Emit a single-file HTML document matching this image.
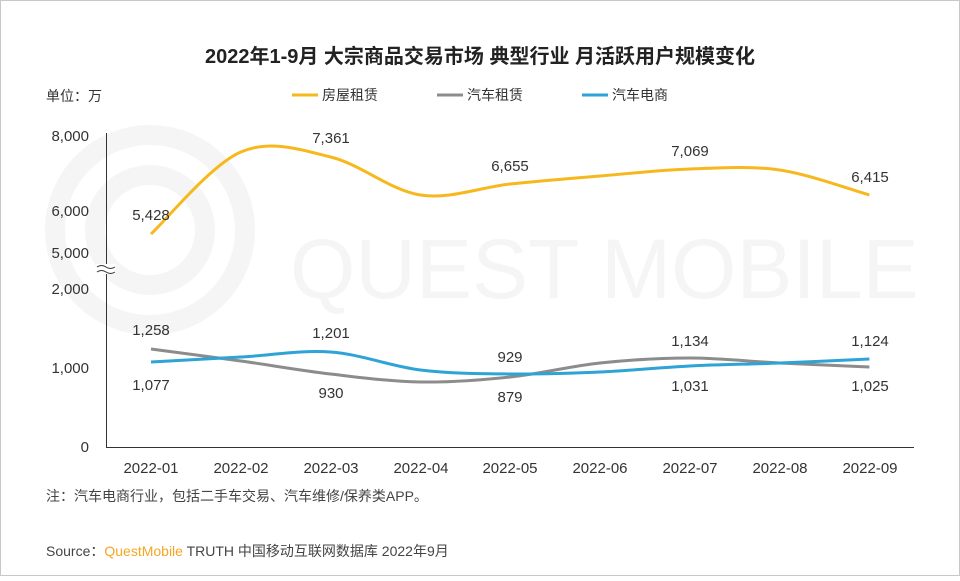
<!DOCTYPE html>
<html><head><meta charset="utf-8"><style>
body{margin:0;width:960px;height:576px;overflow:hidden;background:#fff;font-family:"Liberation Sans","Noto Sans CJK SC",sans-serif}
</style></head><body>
<svg width="960" height="576" xmlns="http://www.w3.org/2000/svg" font-family="Liberation Sans, Noto Sans CJK SC, sans-serif">
<rect x="0.5" y="0.5" width="959" height="575" fill="#fff" stroke="#c8c8c8"/>
<!-- watermark -->
<g fill="none" stroke="#f5f5f5" stroke-width="20">
<circle cx="150" cy="230" r="95"/>
<circle cx="150" cy="230" r="55"/>
</g>
<text x="290" y="298" font-size="84" fill="#f5f5f5">QUEST MOBILE</text>
<text x="480" y="63" font-size="20" text-anchor="middle" fill="#222" font-weight="bold">2022年1-9月 大宗商品交易市场 典型行业 月活跃用户规模变化</text>
<text x="46" y="101" font-size="14" fill="#333">单位：万</text>
<line x1="292" y1="95" x2="318" y2="95" stroke="#f6b81c" stroke-width="3"/>
<text x="322" y="100" font-size="14" fill="#333">房屋租赁</text>
<line x1="437" y1="95" x2="463" y2="95" stroke="#8c8c8c" stroke-width="3"/>
<text x="467" y="100" font-size="14" fill="#333">汽车租赁</text>
<line x1="582" y1="95" x2="608" y2="95" stroke="#2ea3d6" stroke-width="3"/>
<text x="612" y="100" font-size="14" fill="#333">汽车电商</text>
<g font-size="15" fill="#333" text-anchor="end">
<text x="89" y="141">8,000</text><text x="89" y="216">6,000</text><text x="89" y="258">5,000</text>
<text x="89" y="294">2,000</text><text x="89" y="373">1,000</text><text x="89" y="452">0</text>
</g>
<line x1="106.5" y1="133" x2="106.5" y2="447" stroke="#333"/>
<line x1="106" y1="447.5" x2="914" y2="447.5" stroke="#333"/>
<rect x="96" y="264" width="20" height="10" fill="#fff"/>
<path d="M97,267 q4.5,-3 9,0 t9,0 M97,272 q4.5,-3 9,0 t9,0" fill="none" stroke="#333" stroke-width="1"/>
<g font-size="15" fill="#333" text-anchor="middle">
<text x="151" y="473">2022-01</text><text x="241" y="473">2022-02</text><text x="331" y="473">2022-03</text>
<text x="421" y="473">2022-04</text><text x="510" y="473">2022-05</text><text x="600" y="473">2022-06</text>
<text x="690" y="473">2022-07</text><text x="780" y="473">2022-08</text><text x="870" y="473">2022-09</text>
</g>
<path id="py" fill="none" stroke="#f6b81c" stroke-width="3"/>
<path id="pg" fill="none" stroke="#8c8c8c" stroke-width="3"/>
<path id="pb" fill="none" stroke="#2ea3d6" stroke-width="3"/>
<g font-size="15" fill="#333" text-anchor="middle">
<text x="151" y="220">5,428</text><text x="331" y="143">7,361</text><text x="510" y="171">6,655</text>
<text x="690" y="156">7,069</text><text x="870" y="182">6,415</text>
<text x="151" y="335">1,258</text><text x="151" y="390">1,077</text>
<text x="331" y="338">1,201</text><text x="331" y="398">930</text>
<text x="510" y="362">929</text><text x="510" y="402">879</text>
<text x="690" y="346">1,134</text><text x="690" y="391">1,031</text>
<text x="870" y="346">1,124</text><text x="870" y="391">1,025</text>
</g>
<text x="46" y="501" font-size="14" fill="#444">注：汽车电商行业，包括二手车交易、汽车维修/保养类APP。</text>
<text x="46" y="556" font-size="14" fill="#444">Source：<tspan fill="#f5a623">QuestMobile</tspan> TRUTH 中国移动互联网数据库 2022年9月</text>
</svg>
<script>
function cr(ys){var xs=[],p=[];for(var i=0;i<9;i++){xs.push(151+89.8*i);}
for(i=0;i<9;i++)p.push([xs[i],ys[i]]);
var d="M"+p[0][0]+","+p[0][1];
for(i=0;i<8;i++){var p0=p[Math.max(i-1,0)],p1=p[i],p2=p[i+1],p3=p[Math.min(i+2,8)];
var c1=[p1[0]+(p2[0]-p0[0])/6,p1[1]+(p2[1]-p0[1])/6],c2=[p2[0]-(p3[0]-p1[0])/6,p2[1]-(p3[1]-p1[1])/6];
d+=" C"+c1+" "+c2+" "+p2;}return d;}
document.getElementById("py").setAttribute("d",cr([234,152,157,195,184,176,169,170,195]));
document.getElementById("pg").setAttribute("d",cr([349,361,374,382,377,363,358,363,367]));
document.getElementById("pb").setAttribute("d",cr([362,357,352,370,374,372,366,363,359]));
</script>
</body></html>
